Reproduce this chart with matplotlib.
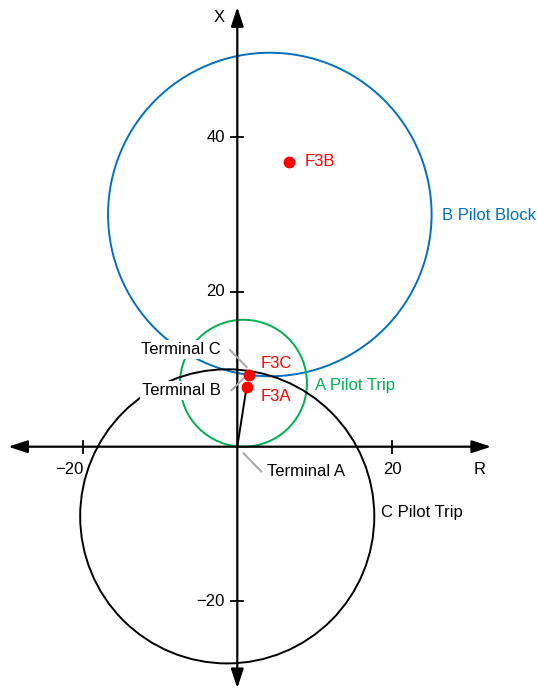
import matplotlib.pyplot as plt
from matplotlib.patches import Circle

plt.rcParams['font.family'] = ['Liberation Sans', 'DejaVu Sans']

# Mho characteristics (center R, center X, radius)
circle_names = ['B Pilot Block', 'A Pilot Trip', 'C Pilot Trip']
circle_centers = [(4.2, 30.0), (0.8, 8.2), (-1.3, -9.0)]
circle_radii = [20.9, 8.2, 19.0]
circle_colors = ['#0070C0', '#00B050', 'black']
circle_label_pos = [(26.5, 29.9), (10.1, 7.9), (18.6, -8.5)]

# Fault impedances
fault_names = ['F3B', 'F3C', 'F3A']
fault_r = [6.66, 1.55, 1.2]
fault_x = [36.8, 9.25, 7.7]
fault_label_pos = [(8.7, 36.8), (3.0, 10.8), (3.0, 6.5)]

# Terminal labels with leader lines
terminal_names = ['Terminal C', 'Terminal B', 'Terminal A']
terminal_text_pos = [(-2.1, 12.5), (-2.1, 7.2), (3.9, -3.25)]
terminal_leaders = [((-0.95, 12.5), (1.2, 10.3)),
                    ((-0.75, 7.3), (1.0, 9.0)),
                    ((0.8, -0.85), (3.1, -3.2))]
terminal_ha = ['right', 'right', 'left']

# axis ticks
x_ticks = [-20, 20]
y_ticks = [-20, 20, 40]

scale = 7.74  # px per ohm
fig = plt.figure(figsize=(5.37, 6.90), dpi=100)
ax = fig.add_axes([0, 0, 1, 1])
ax.set_xlim(-237.3 / scale, 299.7 / scale)
ax.set_ylim(-243.3 / scale, 446.7 / scale)
ax.set_aspect('equal')
ax.axis('off')

# axes with arrows
arrow = dict(arrowstyle='<|-|>,head_length=0.58,head_width=0.19', color='black',
             lw=1.6, mutation_scale=20, shrinkA=0, shrinkB=0)
ax.annotate('', xy=(-29.6, 0), xytext=(32.8, 0), arrowprops=arrow, zorder=3)
ax.annotate('', xy=(0, 56.8), xytext=(0, -31.2), arrowprops=arrow, zorder=3)

for t in x_ticks:
    ax.plot([t, t], [-0.8, 0.8], color='black', lw=1.3, zorder=3)
for t in y_ticks:
    ax.plot([-0.8, 0.8], [t, t], color='black', lw=1.3, zorder=3)

ax.text(-19.9, -3.0, '\u221220', ha='right', va='center', fontsize=12)
ax.text(20, -3.0, '20', ha='center', va='center', fontsize=12)
for t in y_ticks:
    lbl = '\u2212%d' % abs(t) if t < 0 else str(t)
    ax.text(-1.6, t, lbl, ha='right', va='center', fontsize=12)
ax.text(-2.4, 55.5, 'X', ha='center', va='center', fontsize=12)
ax.text(31.3, -2.9, 'R', ha='center', va='center', fontsize=12)

# circles
for name, c, r, col, pos in zip(circle_names, circle_centers, circle_radii,
                                circle_colors, circle_label_pos):
    ax.add_patch(Circle(c, r, fill=False, edgecolor=col, lw=1.4, zorder=2))
    ax.text(pos[0], pos[1], name, color=col, ha='left', va='center', fontsize=12)

# line impedance to F3A
ax.plot([0, fault_r[2]], [0, fault_x[2]], color='black', lw=1.4, zorder=3)

# terminal labels
for name, pos, (p0, p1), ha in zip(terminal_names, terminal_text_pos,
                                   terminal_leaders, terminal_ha):
    ax.plot([p0[0], p1[0]], [p0[1], p1[1]], color='#A6A6A6', lw=1.4, zorder=4)
    ax.text(pos[0], pos[1], name, ha=ha, va='center', fontsize=12, zorder=5,
            bbox=dict(facecolor='white', edgecolor='none', pad=1.5))

# fault points
ax.plot(fault_r, fault_x, 'o', color='#FF0000', markersize=7.5, zorder=6)
for name, pos in zip(fault_names, fault_label_pos):
    ax.text(pos[0], pos[1], name, color='#FF0000', ha='left', va='center',
            fontsize=12, zorder=6)

fig.savefig('out.png', dpi=100)
